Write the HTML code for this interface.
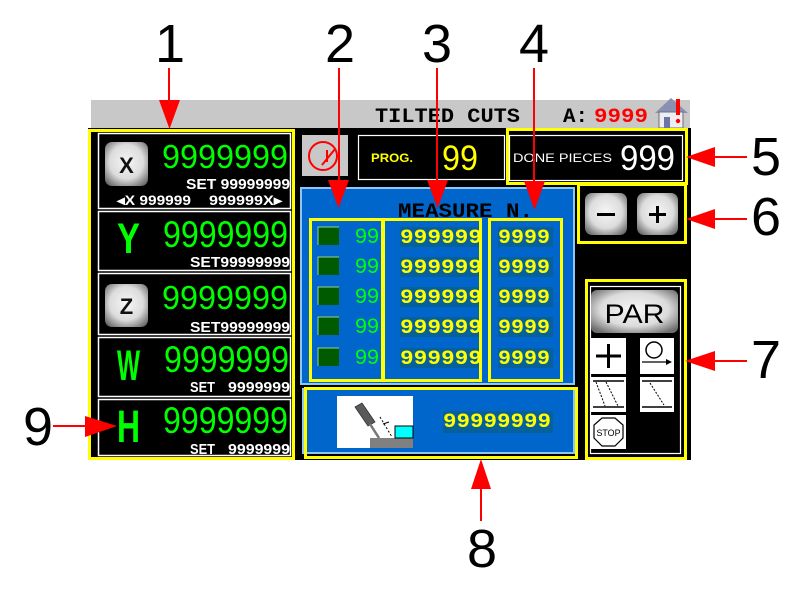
<!DOCTYPE html>
<html>
<head>
<meta charset="utf-8">
<style>
  html,body{margin:0;padding:0;background:#fff;}
  svg{display:block;}
  text{font-family:"Liberation Sans",sans-serif;}
  .mono{font-family:"Liberation Mono",monospace;}
</style>
</head>
<body>
<svg width="800" height="592" viewBox="0 0 800 592" xmlns="http://www.w3.org/2000/svg">
  <defs>
    <radialGradient id="btn" cx="50%" cy="45%" r="65%">
      <stop offset="0%" stop-color="#f6f6f6"/>
      <stop offset="60%" stop-color="#dcdcdc"/>
      <stop offset="100%" stop-color="#6e6e6e"/>
    </radialGradient>
    <clipPath id="c2"><rect x="384" y="218" width="96" height="164"/></clipPath>
  </defs>

  <!-- header bar -->
  <rect x="91" y="100" width="599" height="28" fill="#c8c8c8"/>
  <text class="mono" x="375" y="122" font-size="20" font-weight="bold" textLength="145" lengthAdjust="spacingAndGlyphs" fill="#000">TILTED CUTS</text>
  <text class="mono" x="563" y="122" font-size="20" font-weight="bold" textLength="25" lengthAdjust="spacingAndGlyphs" fill="#000">A:</text>
  <text class="mono" x="594" y="122" font-size="20" font-weight="bold" textLength="54" lengthAdjust="spacingAndGlyphs" fill="#ff0000">9999</text>
  <!-- house icon -->
  <polygon points="655,113 671,98 688,113" fill="#8a90b4"/>
  <rect x="659" y="112" width="24" height="16" fill="#eceef4" stroke="#707070" stroke-width="1"/>
  <rect x="664" y="117" width="6" height="11" fill="#6a74a8"/>
  <rect x="676" y="99" width="4" height="16" fill="#ff0000"/>
  <circle cx="678" cy="121" r="2.2" fill="#ff0000"/>

  <!-- black screen -->
  <rect x="88" y="128" width="603" height="332" fill="#000"/>

  <!-- LEFT PANEL -->
  <rect x="89.5" y="130.5" width="204" height="328" fill="none" stroke="#ffff00" stroke-width="3"/>
  <g fill="none" stroke="#fff" stroke-width="1.5">
    <rect x="98.5" y="133.5" width="192" height="75"/>
    <rect x="98.5" y="211.5" width="192" height="59"/>
    <rect x="98.5" y="273.5" width="192" height="61"/>
    <rect x="98.5" y="337.5" width="192" height="59"/>
    <rect x="98.5" y="399.5" width="192" height="56"/>
  </g>
  <!-- X row -->
  <rect x="105" y="142" width="43" height="44" rx="7" fill="url(#btn)"/>
  <text x="126.5" y="173" font-size="22" font-weight="bold" text-anchor="middle" fill="#111">X</text>
  <text x="162" y="168" font-size="33" textLength="126" lengthAdjust="spacingAndGlyphs" fill="#00ff00">9999999</text>
  <text x="186" y="189" font-size="15" font-weight="bold" textLength="104" lengthAdjust="spacingAndGlyphs" fill="#fff">SET 99999999</text>
  <text x="117" y="205" font-size="14" font-weight="bold" textLength="74" lengthAdjust="spacingAndGlyphs" fill="#fff">◂X 999999</text>
  <text x="209" y="205" font-size="14" font-weight="bold" textLength="73" lengthAdjust="spacingAndGlyphs" fill="#fff">999999X▸</text>
  <!-- Y row -->
  <text x="117" y="253" font-size="43" font-weight="bold" textLength="23" lengthAdjust="spacingAndGlyphs" fill="#00ff00">Y</text>
  <text x="163" y="247" font-size="37" textLength="125" lengthAdjust="spacingAndGlyphs" fill="#00ff00">9999999</text>
  <text x="190" y="267" font-size="15" font-weight="bold" textLength="100" lengthAdjust="spacingAndGlyphs" fill="#fff">SET99999999</text>
  <!-- Z row -->
  <rect x="105" y="284" width="43" height="43" rx="7" fill="url(#btn)"/>
  <text x="126.5" y="314" font-size="22" font-weight="bold" text-anchor="middle" fill="#111">Z</text>
  <text x="162" y="309" font-size="33" textLength="126" lengthAdjust="spacingAndGlyphs" fill="#00ff00">9999999</text>
  <text x="190" y="332" font-size="15" font-weight="bold" textLength="100" lengthAdjust="spacingAndGlyphs" fill="#fff">SET99999999</text>
  <!-- W row -->
  <text x="117" y="380" font-size="43" font-weight="bold" textLength="23" lengthAdjust="spacingAndGlyphs" fill="#00ff00">W</text>
  <text x="164" y="372" font-size="37" textLength="125" lengthAdjust="spacingAndGlyphs" fill="#00ff00">9999999</text>
  <text x="190" y="392" font-size="15" font-weight="bold" textLength="25" lengthAdjust="spacingAndGlyphs" fill="#fff">SET</text>
  <text x="228" y="392" font-size="15" font-weight="bold" textLength="62" lengthAdjust="spacingAndGlyphs" fill="#fff">9999999</text>
  <!-- H row -->
  <text x="117" y="442" font-size="45" font-weight="bold" textLength="23" lengthAdjust="spacingAndGlyphs" fill="#00ff00">H</text>
  <text x="163" y="433" font-size="37" textLength="125" lengthAdjust="spacingAndGlyphs" fill="#00ff00">9999999</text>
  <text x="190" y="454" font-size="15" font-weight="bold" textLength="25" lengthAdjust="spacingAndGlyphs" fill="#fff">SET</text>
  <text x="228" y="454" font-size="15" font-weight="bold" textLength="62" lengthAdjust="spacingAndGlyphs" fill="#fff">9999999</text>

  <!-- TOP CENTER -->
  <rect x="302" y="135" width="46" height="41" fill="#c8c8c8"/>
  <circle cx="323" cy="156" r="14" fill="none" stroke="#ff0000" stroke-width="2"/>
  <line x1="322" y1="165" x2="335" y2="149" stroke="#ff0000" stroke-width="2"/>
  <line x1="327" y1="150" x2="327" y2="162" stroke="#ff0000" stroke-width="2"/>

  <rect x="358.5" y="135.5" width="146" height="44" fill="#000" stroke="#fff" stroke-width="1.2"/>
  <text x="371" y="162" font-size="12" font-weight="bold" textLength="42" lengthAdjust="spacingAndGlyphs" fill="#ffff00">PROG.</text>
  <text x="442" y="170" font-size="35" textLength="36" lengthAdjust="spacingAndGlyphs" fill="#ffff00">99</text>

  <rect x="507.5" y="129.5" width="179" height="54" fill="none" stroke="#ffff00" stroke-width="3"/>
  <rect x="509.5" y="135.5" width="173" height="45" fill="#000" stroke="#fff" stroke-width="1.2"/>
  <text x="513" y="162" font-size="12" textLength="99" lengthAdjust="spacingAndGlyphs" fill="#fff">DONE PIECES</text>
  <text x="620" y="170" font-size="35" textLength="55" lengthAdjust="spacingAndGlyphs" fill="#fff">999</text>

  <!-- MEASURE PANEL -->
  <rect x="301" y="188" width="273" height="196" fill="#0066cc" stroke="#8ec8f2" stroke-width="2"/>
  <text class="mono" x="398" y="217" font-size="20" font-weight="bold" textLength="135" lengthAdjust="spacingAndGlyphs" fill="#000">MEASURE N.</text>
  <g>
    <rect x="318" y="227" width="21" height="18" fill="#005a00"/><path d="M318 245V227H339" fill="none" stroke="#9c9" stroke-width="1"/>
    <text x="355" y="243" font-size="21" textLength="24" lengthAdjust="spacingAndGlyphs" fill="#00ff00">99</text>
    <rect x="400" y="227" width="82" height="20" fill="#06609a"/>
    <text class="mono" x="400" y="243" font-size="20" font-weight="bold" textLength="82" lengthAdjust="spacingAndGlyphs" fill="#ffff00" clip-path="url(#c2)">999999</text>
    <rect x="498" y="227" width="55" height="20" fill="#06609a"/>
    <text class="mono" x="498" y="243" font-size="20" font-weight="bold" textLength="52" lengthAdjust="spacingAndGlyphs" fill="#ffff00">9999</text>

    <rect x="318" y="257" width="21" height="18" fill="#005a00"/><path d="M318 275V257H339" fill="none" stroke="#9c9" stroke-width="1"/>
    <text x="355" y="273" font-size="21" textLength="24" lengthAdjust="spacingAndGlyphs" fill="#00ff00">99</text>
    <rect x="400" y="257" width="82" height="20" fill="#06609a"/>
    <text class="mono" x="400" y="273" font-size="20" font-weight="bold" textLength="82" lengthAdjust="spacingAndGlyphs" fill="#ffff00" clip-path="url(#c2)">999999</text>
    <rect x="498" y="257" width="55" height="20" fill="#06609a"/>
    <text class="mono" x="498" y="273" font-size="20" font-weight="bold" textLength="52" lengthAdjust="spacingAndGlyphs" fill="#ffff00">9999</text>

    <rect x="318" y="287" width="21" height="18" fill="#005a00"/><path d="M318 305V287H339" fill="none" stroke="#9c9" stroke-width="1"/>
    <text x="355" y="303" font-size="21" textLength="24" lengthAdjust="spacingAndGlyphs" fill="#00ff00">99</text>
    <rect x="400" y="287" width="82" height="20" fill="#06609a"/>
    <text class="mono" x="400" y="303" font-size="20" font-weight="bold" textLength="82" lengthAdjust="spacingAndGlyphs" fill="#ffff00" clip-path="url(#c2)">999999</text>
    <rect x="498" y="287" width="55" height="20" fill="#06609a"/>
    <text class="mono" x="498" y="303" font-size="20" font-weight="bold" textLength="52" lengthAdjust="spacingAndGlyphs" fill="#ffff00">9999</text>

    <rect x="318" y="317" width="21" height="18" fill="#005a00"/><path d="M318 335V317H339" fill="none" stroke="#9c9" stroke-width="1"/>
    <text x="355" y="333" font-size="21" textLength="24" lengthAdjust="spacingAndGlyphs" fill="#00ff00">99</text>
    <rect x="400" y="317" width="82" height="20" fill="#06609a"/>
    <text class="mono" x="400" y="333" font-size="20" font-weight="bold" textLength="82" lengthAdjust="spacingAndGlyphs" fill="#ffff00" clip-path="url(#c2)">999999</text>
    <rect x="498" y="317" width="55" height="20" fill="#06609a"/>
    <text class="mono" x="498" y="333" font-size="20" font-weight="bold" textLength="52" lengthAdjust="spacingAndGlyphs" fill="#ffff00">9999</text>

    <rect x="318" y="348" width="21" height="18" fill="#005a00"/><path d="M318 366V348H339" fill="none" stroke="#9c9" stroke-width="1"/>
    <text x="355" y="364" font-size="21" textLength="24" lengthAdjust="spacingAndGlyphs" fill="#00ff00">99</text>
    <rect x="400" y="348" width="82" height="20" fill="#06609a"/>
    <text class="mono" x="400" y="364" font-size="20" font-weight="bold" textLength="82" lengthAdjust="spacingAndGlyphs" fill="#ffff00" clip-path="url(#c2)">999999</text>
    <rect x="498" y="348" width="55" height="20" fill="#06609a"/>
    <text class="mono" x="498" y="364" font-size="20" font-weight="bold" textLength="52" lengthAdjust="spacingAndGlyphs" fill="#ffff00">9999</text>
  </g>
  <g fill="none" stroke="#ffff00" stroke-width="3">
    <rect x="310.5" y="219.5" width="72" height="161"/>
    <rect x="383.5" y="219.5" width="97" height="161"/>
    <rect x="489.5" y="219.5" width="72" height="161"/>
  </g>

  <!-- BOTTOM PANEL 8 -->
  <rect x="303" y="389" width="271" height="64" fill="#0066cc" stroke="#8ec8f2" stroke-width="2"/>
  <rect x="305.5" y="388.5" width="271" height="69" fill="none" stroke="#ffff00" stroke-width="3"/>
  <rect x="337" y="396" width="76" height="52" fill="#fff"/>
  <rect x="370" y="438" width="43" height="10" fill="#808080"/>
  <rect x="395" y="426" width="18" height="12" fill="#00ffff" stroke="#000" stroke-width="1"/>
  <polygon points="355,407 362,403 375,422 368,426" fill="#5a5a5a" stroke="#333" stroke-width="0.8"/>
  <line x1="370" y1="424" x2="379" y2="438" stroke="#777" stroke-width="2.5"/>
  <line x1="380" y1="417" x2="392" y2="437" stroke="#000" stroke-width="1" stroke-dasharray="2,2"/>
  <line x1="383" y1="424" x2="389" y2="422" stroke="#000" stroke-width="1"/>
  <rect x="443" y="411" width="110" height="22" fill="#06609a"/>
  <text class="mono" x="443" y="427" font-size="20" font-weight="bold" textLength="108" lengthAdjust="spacingAndGlyphs" fill="#ffff00">99999999</text>

  <!-- BOX 6 -->
  <rect x="578.5" y="184.5" width="107" height="58" fill="none" stroke="#ffff00" stroke-width="3"/>
  <rect x="585" y="193" width="42" height="42" rx="7" fill="url(#btn)"/>
  <rect x="597" y="213" width="18" height="3" fill="#000"/>
  <rect x="637" y="193" width="41" height="42" rx="7" fill="url(#btn)"/>
  <rect x="649" y="213" width="17" height="3" fill="#000"/>
  <rect x="656" y="206" width="3" height="17" fill="#000"/>

  <!-- BOX 7 -->
  <rect x="586.5" y="280.5" width="99" height="178" fill="none" stroke="#ffff00" stroke-width="3"/>
  <rect x="590.5" y="286.5" width="90" height="167" fill="none" stroke="#fff" stroke-width="1.2"/>
  <rect x="591" y="290" width="87" height="43" rx="6" fill="url(#btn)"/>
  <text x="634.5" y="323" font-size="27" text-anchor="middle" textLength="60" lengthAdjust="spacingAndGlyphs" fill="#000">PAR</text>
  <rect x="591" y="338" width="35" height="36" fill="#fff"/>
  <rect x="640" y="338" width="34" height="36" fill="#fff"/>
  <rect x="591" y="377" width="35" height="35" fill="#fff"/>
  <rect x="640" y="377" width="34" height="35" fill="#fff"/>
  <rect x="591" y="415" width="35" height="34" fill="#fff"/>
  <line x1="596" y1="356" x2="621" y2="356" stroke="#000" stroke-width="3"/>
  <line x1="608.5" y1="344" x2="608.5" y2="368" stroke="#000" stroke-width="3"/>
  <circle cx="654" cy="350" r="8" fill="none" stroke="#000" stroke-width="1.5"/>
  <line x1="642" y1="362" x2="667" y2="362" stroke="#000" stroke-width="1.2"/>
  <polygon points="666,359 672,362 666,365" fill="#000"/>
  <line x1="593" y1="381" x2="624" y2="381" stroke="#000" stroke-width="1.5"/>
  <line x1="593" y1="407" x2="624" y2="407" stroke="#000" stroke-width="1.5"/>
  <line x1="596" y1="382" x2="605" y2="406" stroke="#000" stroke-width="1" stroke-dasharray="2,1.5"/>
  <line x1="606" y1="382" x2="618" y2="406" stroke="#000" stroke-width="1" stroke-dasharray="2,1.5"/>
  <line x1="642" y1="381" x2="672" y2="381" stroke="#000" stroke-width="1.5"/>
  <line x1="642" y1="407" x2="672" y2="407" stroke="#000" stroke-width="1.5"/>
  <line x1="650" y1="383" x2="664" y2="405" stroke="#000" stroke-width="1" stroke-dasharray="2,1.5"/>
  <polygon points="602,418 615,418 623,425 623,438 615,446 602,446 594,438 594,425" fill="#fff" stroke="#000" stroke-width="1.2"/>
  <text x="608.5" y="436" font-size="9" text-anchor="middle" textLength="24" lengthAdjust="spacingAndGlyphs" fill="#000">STOP</text>

  <!-- ANNOTATIONS -->
  <g fill="#000" font-size="54" text-anchor="middle">
    <text x="170" y="62">1</text>
    <text x="340" y="62">2</text>
    <text x="437" y="62">3</text>
    <text x="534" y="62">4</text>
    <text x="766" y="175">5</text>
    <text x="766" y="235">6</text>
    <text x="766" y="378">7</text>
    <text x="482" y="567">8</text>
    <text x="38" y="445">9</text>
  </g>
  <g stroke="#ff0000" stroke-width="2">
    <line x1="169" y1="68" x2="169" y2="102"/>
    <line x1="339" y1="68" x2="339" y2="182"/>
    <line x1="437" y1="68" x2="437" y2="182"/>
    <line x1="534" y1="68" x2="534" y2="182"/>
    <line x1="713" y1="157" x2="747" y2="157"/>
    <line x1="713" y1="219" x2="747" y2="219"/>
    <line x1="713" y1="361" x2="747" y2="361"/>
    <line x1="481" y1="488" x2="481" y2="521"/>
    <line x1="53" y1="426" x2="87" y2="426"/>
  </g>
  <g fill="#ff0000">
    <polygon points="159,100 180,100 169.5,129"/>
    <polygon points="328,180 349,180 338.5,208"/>
    <polygon points="427,180 448,180 437.5,208"/>
    <polygon points="524,181 545,181 534.5,210"/>
    <polygon points="715,147 715,167 686,157"/>
    <polygon points="715,209 715,229 686,219"/>
    <polygon points="715,351 715,371 685,361"/>
    <polygon points="471,489 491,489 481,459"/>
    <polygon points="85,416 85,437 117,426"/>
  </g>
</svg>
</body>
</html>
